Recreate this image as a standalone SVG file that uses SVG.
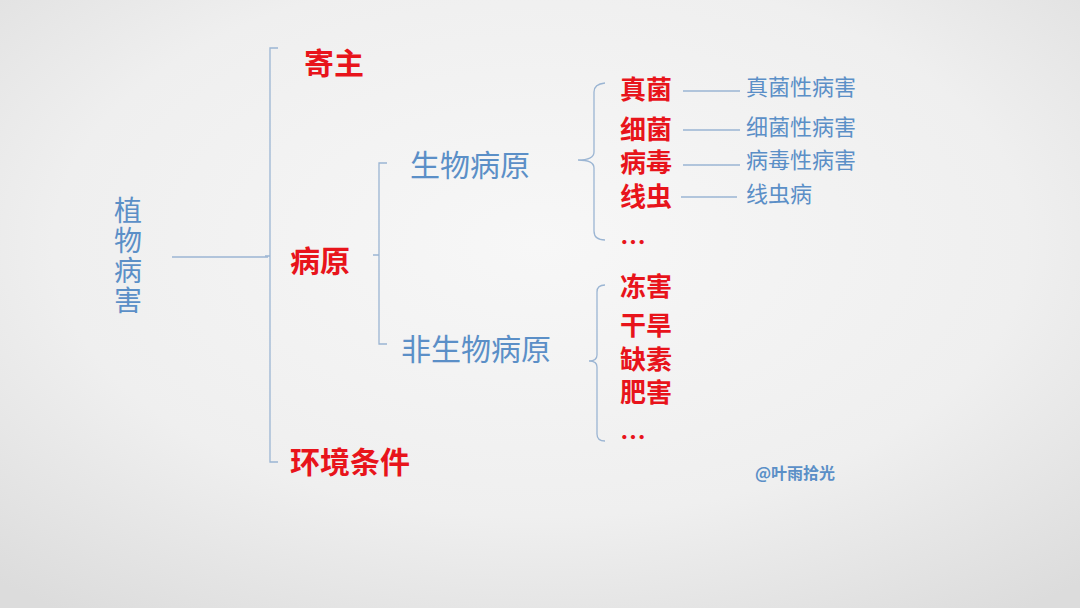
<svg xmlns="http://www.w3.org/2000/svg" width="1080" height="608" viewBox="0 0 1080 608">
<defs>
<radialGradient id="bg" cx="50%" cy="40%" r="75%">
<stop offset="0" stop-color="#f7f7f7"/>
<stop offset="0.6" stop-color="#efefef"/>
<stop offset="1" stop-color="#dcdcdc"/>
</radialGradient>
<style>
.b{font-family:"Noto Sans CJK SC","Noto Sans",sans-serif;fill:#5b8fc7}
.r{font-family:"Noto Sans CJK SC","Noto Sans",sans-serif;fill:#e8141b;font-weight:bold}
.ln{stroke:#9bb5d3;stroke-width:1.3;fill:none}
</style>
</defs>
<rect width="1080" height="608" fill="url(#bg)"/>
<g id="connectors">
<path class="ln" d="M172 257 H268"/>
<path class="ln" d="M278 48 H270 V462 H278 M265 256 H270"/>
<path class="ln" d="M387 163 H379 V344 H387 M373 255 H379"/>
<path class="ln" d="M605 83 Q594 84 594 92 V152 Q594 160 578 160 Q594 160 594 168 V231 Q594 240 605 240"/>
<path class="ln" d="M605 285 Q597 285 597 292 V355 Q597 361 589 361 Q597 361 597 367 V434 Q597 441 605 441"/>
<path class="ln" d="M683 91 H740 M683 130 H740 M683 165 H740 M681 197 H737"/>
</g>
<g id="n_root"><text class="b" x="128" y="196" font-size="28" letter-spacing="2" style="writing-mode:vertical-rl">植物病害</text></g>
<g id="n_host"><text class="r" x="304" y="74" font-size="30">寄主</text></g>
<g id="n_path"><text class="r" x="290" y="272" font-size="30">病原</text></g>
<g id="n_env"><text class="r" x="290" y="473" font-size="30">环境条件</text></g>
<g id="n_bio"><text class="b" x="410" y="176" font-size="30">生物病原</text></g>
<g id="n_abio"><text class="b" x="401" y="360" font-size="30">非生物病原</text></g>
<g id="n_fungi"><text class="r" x="620" y="99" font-size="26">真菌</text></g>
<g id="n_bact"><text class="r" x="620" y="139" font-size="26">细菌</text></g>
<g id="n_virus"><text class="r" x="620" y="172" font-size="26">病毒</text></g>
<g id="n_nema"><text class="r" x="620" y="206" font-size="26">线虫</text></g>
<g id="n_etc1"><text class="r" x="620" y="252" font-size="26">…</text></g>
<g id="n_frost"><text class="r" x="620" y="296" font-size="26">冻害</text></g>
<g id="n_drought"><text class="r" x="620" y="335" font-size="26">干旱</text></g>
<g id="n_defic"><text class="r" x="620" y="369" font-size="26">缺素</text></g>
<g id="n_fert"><text class="r" x="620" y="402" font-size="26">肥害</text></g>
<g id="n_etc2"><text class="r" x="620" y="447" font-size="26">…</text></g>
<g id="n_fd"><text class="b" x="746" y="95" font-size="22">真菌性病害</text></g>
<g id="n_bd"><text class="b" x="746" y="135" font-size="22">细菌性病害</text></g>
<g id="n_vd"><text class="b" x="746" y="168" font-size="22">病毒性病害</text></g>
<g id="n_nd"><text class="b" x="746" y="202" font-size="22">线虫病</text></g>
<g id="credit"><text class="b" x="755" y="479" font-size="16" font-weight="bold" fill="#3a7cc2">@叶雨拾光</text></g>
</svg>
